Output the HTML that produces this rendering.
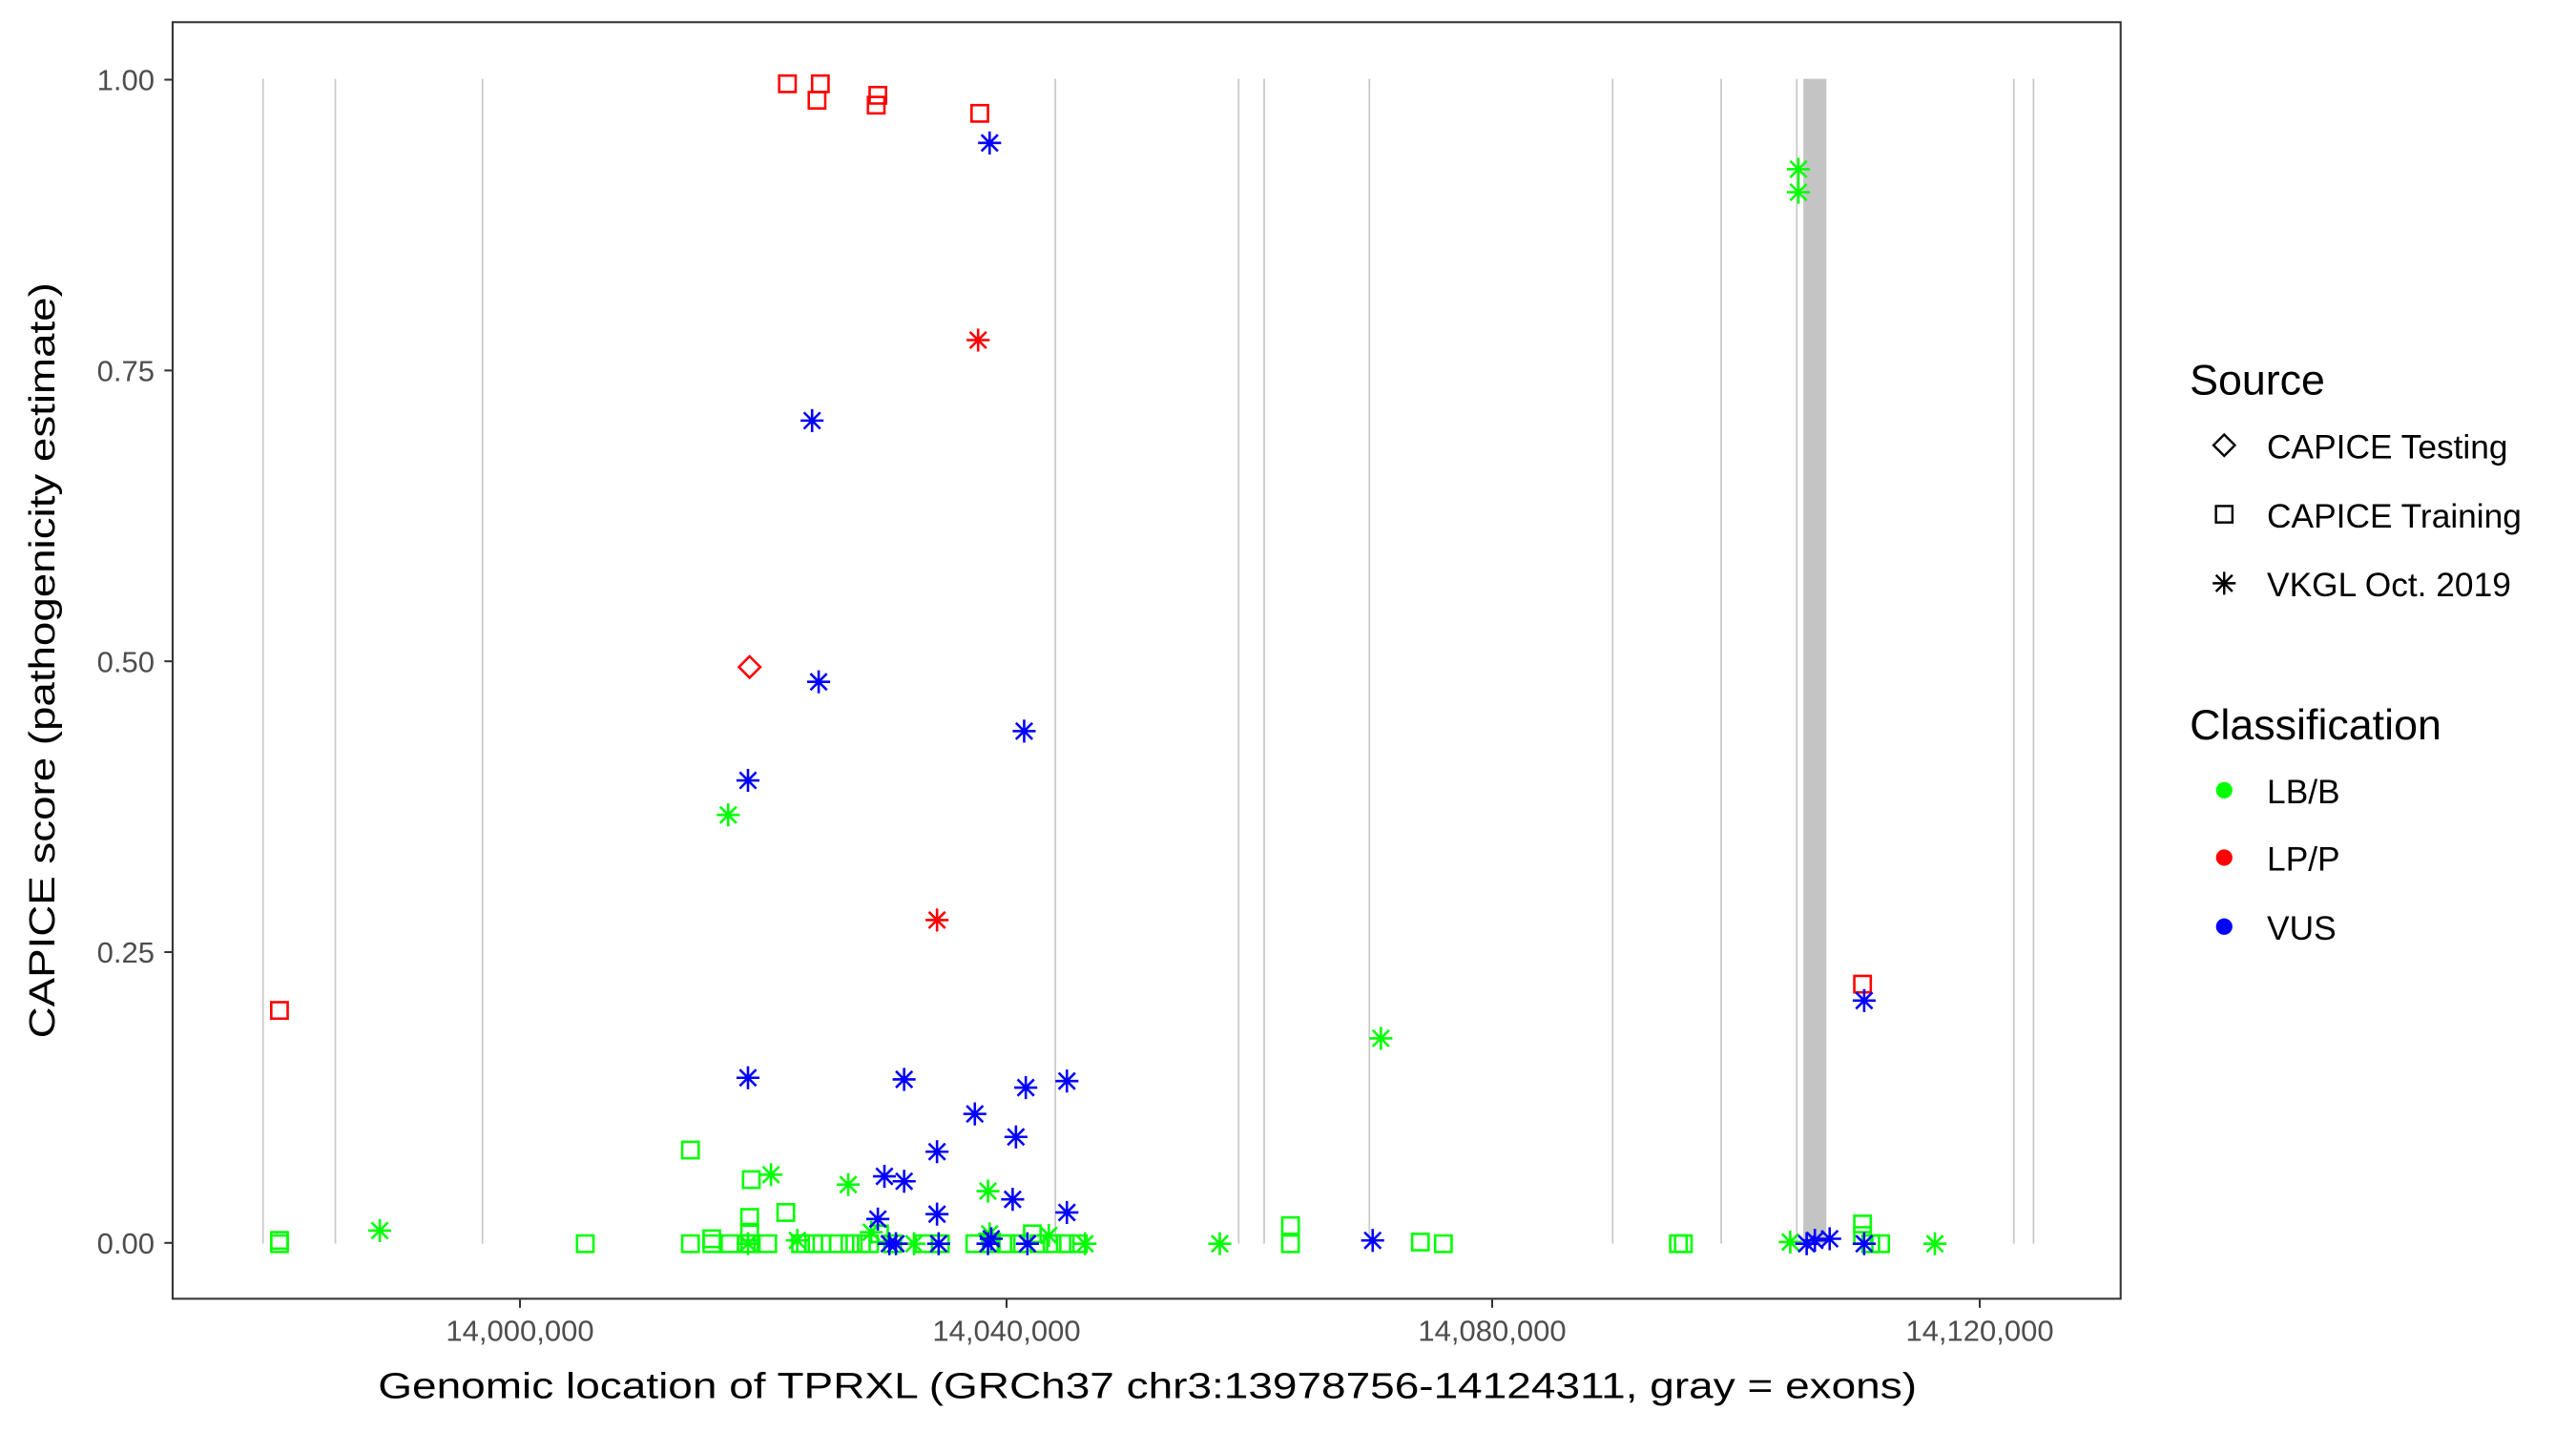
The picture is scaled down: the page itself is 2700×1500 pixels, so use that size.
<!DOCTYPE html>
<html><head><meta charset="utf-8"><style>
html,body{margin:0;padding:0;background:#fff;}
svg{display:block;}
text{font-family:"Liberation Sans",Arial,sans-serif;}
</style></head><body>
<svg width="2700" height="1500" viewBox="0 0 1567 871" preserveAspectRatio="none" xmlns="http://www.w3.org/2000/svg">
<defs>
<g id="sq"><rect x="-5" y="-5" width="10" height="10" fill="none" stroke="currentColor" stroke-width="1.5"/></g>
<g id="as" stroke="currentColor" stroke-width="1.5"><line x1="0" y1="-7" x2="0" y2="7"/><line x1="-7" y1="0" x2="7" y2="0"/><line x1="-5" y1="-5" x2="5" y2="5"/><line x1="-5" y1="5" x2="5" y2="-5"/></g>
<g id="di"><path d="M0,-6.5 L6.5,0 L0,6.5 L-6.5,0 Z" fill="none" stroke="currentColor" stroke-width="1.5"/></g>
</defs>
<rect width="1567" height="871" fill="#fff"/>
<g stroke="#c8c8c8" stroke-width="1">
<line x1="160" y1="48" x2="160" y2="757"/>
<line x1="204" y1="48" x2="204" y2="757"/>
<line x1="293.5" y1="48" x2="293.5" y2="757"/>
<line x1="642" y1="48" x2="642" y2="757"/>
<line x1="753.5" y1="48" x2="753.5" y2="757"/>
<line x1="769" y1="48" x2="769" y2="757"/>
<line x1="833" y1="48" x2="833" y2="757"/>
<line x1="981" y1="48" x2="981" y2="757"/>
<line x1="1047" y1="48" x2="1047" y2="757"/>
<line x1="1093" y1="48" x2="1093" y2="757"/>
<line x1="1225" y1="48" x2="1225" y2="757"/>
<line x1="1237" y1="48" x2="1237" y2="757"/>
</g>
<rect x="1097" y="48" width="14" height="709" fill="#c4c4c4"/>
<g color="#00ff00" fill="none">
<use href="#sq" x="170" y="757"/><use href="#sq" x="170" y="755"/><use href="#sq" x="356" y="757"/><use href="#sq" x="420" y="700"/><use href="#sq" x="420" y="757"/><use href="#sq" x="433" y="757"/><use href="#sq" x="433" y="754"/><use href="#sq" x="457" y="718"/><use href="#sq" x="456" y="741"/><use href="#sq" x="456" y="750"/><use href="#sq" x="478" y="738"/><use href="#sq" x="444" y="757"/><use href="#sq" x="456" y="757"/><use href="#sq" x="467" y="757"/><use href="#sq" x="495" y="757"/><use href="#sq" x="500" y="757"/><use href="#sq" x="510" y="757"/><use href="#sq" x="524" y="757"/><use href="#sq" x="529" y="757"/><use href="#sq" x="535" y="751"/><use href="#sq" x="543" y="757"/><use href="#sq" x="572" y="757"/><use href="#sq" x="593" y="757"/><use href="#sq" x="603" y="757"/><use href="#sq" x="612" y="757"/><use href="#sq" x="628" y="751"/><use href="#sq" x="632" y="757"/><use href="#sq" x="640" y="757"/><use href="#sq" x="648" y="757"/><use href="#sq" x="656" y="757"/><use href="#sq" x="785" y="746"/><use href="#sq" x="785" y="757"/><use href="#sq" x="864" y="756"/><use href="#sq" x="878" y="757"/><use href="#sq" x="1021" y="757"/><use href="#sq" x="1024" y="757"/><use href="#sq" x="1133" y="745"/><use href="#sq" x="1133" y="752"/><use href="#sq" x="1138" y="757"/><use href="#sq" x="1144" y="757"/><use href="#sq" x="487" y="757"/><use href="#sq" x="517" y="757"/><use href="#sq" x="562" y="757"/><use href="#sq" x="454" y="757"/><use href="#sq" x="620" y="757"/>
</g>
<g color="#00ff00">
<use href="#as" x="1094" y="103"/><use href="#as" x="1094" y="117"/><use href="#as" x="443" y="496"/><use href="#as" x="840" y="632"/><use href="#as" x="231" y="749"/><use href="#as" x="469" y="715"/><use href="#as" x="516" y="721"/><use href="#as" x="601" y="725"/><use href="#as" x="530" y="750"/><use href="#as" x="602" y="751"/><use href="#as" x="485" y="755"/><use href="#as" x="742" y="757"/><use href="#as" x="1089" y="756"/><use href="#as" x="1177" y="757"/><use href="#as" x="638" y="752"/><use href="#as" x="660" y="757"/><use href="#as" x="455" y="757"/><use href="#as" x="556" y="757"/>
</g>
<g color="#ff0000">
<use href="#sq" x="479" y="51"/><use href="#sq" x="499" y="51"/><use href="#sq" x="497" y="61"/><use href="#sq" x="534" y="58"/><use href="#sq" x="533" y="64"/><use href="#sq" x="596" y="69"/><use href="#sq" x="170" y="615"/><use href="#sq" x="1133" y="599"/>
<use href="#di" x="456" y="406"/>
<use href="#as" x="595" y="207"/><use href="#as" x="570" y="560"/>
</g>
<g color="#0000ff">
<use href="#as" x="602" y="87"/><use href="#as" x="494" y="256"/><use href="#as" x="498" y="415"/><use href="#as" x="623" y="445"/><use href="#as" x="455" y="475"/><use href="#as" x="455" y="656"/><use href="#as" x="550" y="657"/><use href="#as" x="624" y="662"/><use href="#as" x="649" y="658"/><use href="#as" x="593" y="678"/><use href="#as" x="618" y="692"/><use href="#as" x="570" y="701"/><use href="#as" x="538" y="716"/><use href="#as" x="550" y="719"/><use href="#as" x="616" y="730"/><use href="#as" x="534" y="742"/><use href="#as" x="649" y="738"/><use href="#as" x="570" y="739"/><use href="#as" x="545" y="757"/><use href="#as" x="541" y="757"/><use href="#as" x="571" y="757"/><use href="#as" x="601" y="757"/><use href="#as" x="603" y="754"/><use href="#as" x="625" y="757"/><use href="#as" x="835" y="755"/><use href="#as" x="1099" y="757"/><use href="#as" x="1104" y="755"/><use href="#as" x="1113" y="754"/><use href="#as" x="1134" y="757"/><use href="#as" x="1134" y="609"/>
</g>
<rect x="105" y="13.5" width="1185" height="777" fill="none" stroke="#333" stroke-width="1.2"/>
<g stroke="#333" stroke-width="1.2">
<line x1="100" y1="48.5" x2="105" y2="48.5"/><line x1="100" y1="225.5" x2="105" y2="225.5"/><line x1="100" y1="402.5" x2="105" y2="402.5"/><line x1="100" y1="579.5" x2="105" y2="579.5"/><line x1="100" y1="756.5" x2="105" y2="756.5"/>
<line x1="316.3" y1="791" x2="316.3" y2="796"/><line x1="612.3" y1="791" x2="612.3" y2="796"/><line x1="907.7" y1="791" x2="907.7" y2="796"/><line x1="1204.3" y1="791" x2="1204.3" y2="796"/>
</g>
<g fill="#4d4d4d" font-size="18" text-anchor="end">
<text x="94" y="55">1.00</text><text x="94" y="232">0.75</text><text x="94" y="409">0.50</text><text x="94" y="586">0.25</text><text x="94" y="763">0.00</text>
</g>
<g fill="#4d4d4d" font-size="18" text-anchor="middle">
<text x="316.3" y="816">14,000,000</text><text x="612.3" y="816">14,040,000</text><text x="907.7" y="816">14,080,000</text><text x="1204.3" y="816">14,120,000</text>
</g>
<text x="698" y="851" font-size="22" text-anchor="middle" fill="#000" textLength="936" lengthAdjust="spacingAndGlyphs">Genomic location of TPRXL (GRCh37 chr3:13978756-14124311, gray = exons)</text>
<text transform="translate(33,402) rotate(-90)" font-size="22" text-anchor="middle" fill="#000" textLength="460" lengthAdjust="spacingAndGlyphs">CAPICE score (pathogenicity estimate)</text>
<text x="1332" y="240" font-size="26" fill="#000">Source</text>
<path d="M1353,264.5 L1359.5,271 L1353,277.5 L1346.5,271 Z" fill="none" stroke="#000" stroke-width="1.4"/>
<rect x="1348" y="308" width="10" height="10" fill="none" stroke="#000" stroke-width="1.4"/>
<g stroke="#000" stroke-width="1.4" transform="translate(1353,355)"><line x1="0" y1="-7" x2="0" y2="7"/><line x1="-7" y1="0" x2="7" y2="0"/><line x1="-5" y1="-5" x2="5" y2="5"/><line x1="-5" y1="5" x2="5" y2="-5"/></g>
<g font-size="20.5" fill="#000">
<text x="1379" y="279">CAPICE Testing</text>
<text x="1379" y="321">CAPICE Training</text>
<text x="1379" y="363">VKGL Oct. 2019</text>
</g>
<text x="1332" y="450" font-size="26" fill="#000">Classification</text>
<circle cx="1353" cy="481" r="5" fill="#00ff00"/>
<circle cx="1353" cy="522" r="5" fill="#ff0000"/>
<circle cx="1353" cy="564" r="5" fill="#0000ff"/>
<g font-size="20.5" fill="#000">
<text x="1379" y="489">LB/B</text>
<text x="1379" y="530">LP/P</text>
<text x="1379" y="572">VUS</text>
</g>
</svg>
</body></html>
